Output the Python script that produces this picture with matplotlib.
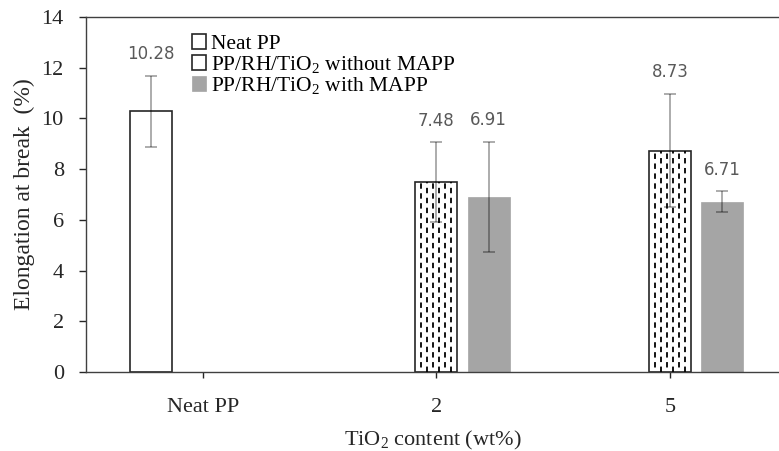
import matplotlib.pyplot as plt
import numpy as np

# データ
categories = ['Neat PP', '2', '5']
series_names = ['Neat PP', 'PP/RH/TiO$_2$ without MAPP', 'PP/RH/TiO$_2$ with MAPP']
neat_pp = [10.28, np.nan, np.nan]
neat_pp_err = [1.41, np.nan, np.nan]
without_mapp = [np.nan, 7.48, 8.73]
without_mapp_err = [np.nan, 1.58, 2.23]
with_mapp = [np.nan, 6.91, 6.71]
with_mapp_err = [np.nan, 2.17, 0.42]

plt.rcParams['font.family'] = ['Liberation Serif', 'DejaVu Sans']
plt.rcParams['mathtext.default'] = 'regular'

fig = plt.figure(figsize=(7.79, 4.51), dpi=100)
ax = fig.add_axes([0.1104, 0.1752, 0.8896, 0.7871])

x = np.arange(len(categories))
w = 0.18
step = 0.223
edge = '#262626'
gray = '#a5a5a5'

all_series = [
    (neat_pp, neat_pp_err, -step, dict(facecolor='white', edgecolor=edge, linewidth=1.2)),
    (without_mapp, without_mapp_err, 0.0, dict(facecolor='white', edgecolor=edge, linewidth=1.2)),
    (with_mapp, with_mapp_err, step, dict(facecolor=gray, edgecolor=gray, linewidth=0.5)),
]

handles = []
for i, (vals, errs, off, style) in enumerate(all_series):
    vals = np.array(vals)
    errs = np.array(errs)
    bars = ax.bar(x + off, vals, w, label=series_names[i], zorder=2, **style)
    handles.append(bars)
    ax.errorbar(x + off, vals, yerr=errs, fmt='none', ecolor='black', alpha=0.38,
                elinewidth=1.2, capsize=4.5, capthick=1.2, zorder=4)
    # 数値ラベル
    for xi, v, e in zip(x + off, vals, errs):
        if np.isnan(v):
            continue
        ax.annotate(f'{v:.2f}', (xi, v + e), xytext=(0, 12), textcoords='offset points',
                    ha='center', va='baseline', fontsize=12, color='#595959',
                    family='DejaVu Sans', zorder=5)

# 点線のハッチ (PP/RH/TiO2 without MAPP)
for xi, v in zip(x, without_mapp):
    if np.isnan(v):
        continue
    left = xi - w / 2
    for k in range(1, 7):
        ax.plot([left + w * k / 7, left + w * k / 7], [0, v], color='black', lw=1.3,
                linestyle=(3 * (k % 2), (3, 2.5)), zorder=3, solid_capstyle='butt')

ax.set_xlim(-0.501, 2.467)
ax.set_ylim(0, 14)
ax.set_yticks(np.arange(0, 15, 2))
ax.set_xticks(x)
ax.set_xticklabels(categories)
ax.tick_params(axis='both', labelsize=16, colors='#262626', direction='out', width=1.0)
ax.tick_params(axis='y', length=5, pad=11)
ax.tick_params(axis='x', length=4.5, pad=14)

for s in ['left', 'top', 'bottom']:
    ax.spines[s].set_color('#404040')
    ax.spines[s].set_linewidth(1.0)
ax.spines['right'].set_visible(False)

ax.set_ylabel('Elongation at break  (%)', fontsize=17, color='#262626', labelpad=5)
ax.set_xlabel('TiO$_2$ content (wt%)', fontsize=16, color='#262626', labelpad=9)

leg = ax.legend(handles=handles, loc='upper left', bbox_to_anchor=(0.14, 0.975),
                frameon=False, fontsize=15.5, handlelength=0.65, handleheight=0.65,
                handletextpad=0.25, labelspacing=0.0, borderaxespad=0)

fig.savefig('out.png', dpi=100)
